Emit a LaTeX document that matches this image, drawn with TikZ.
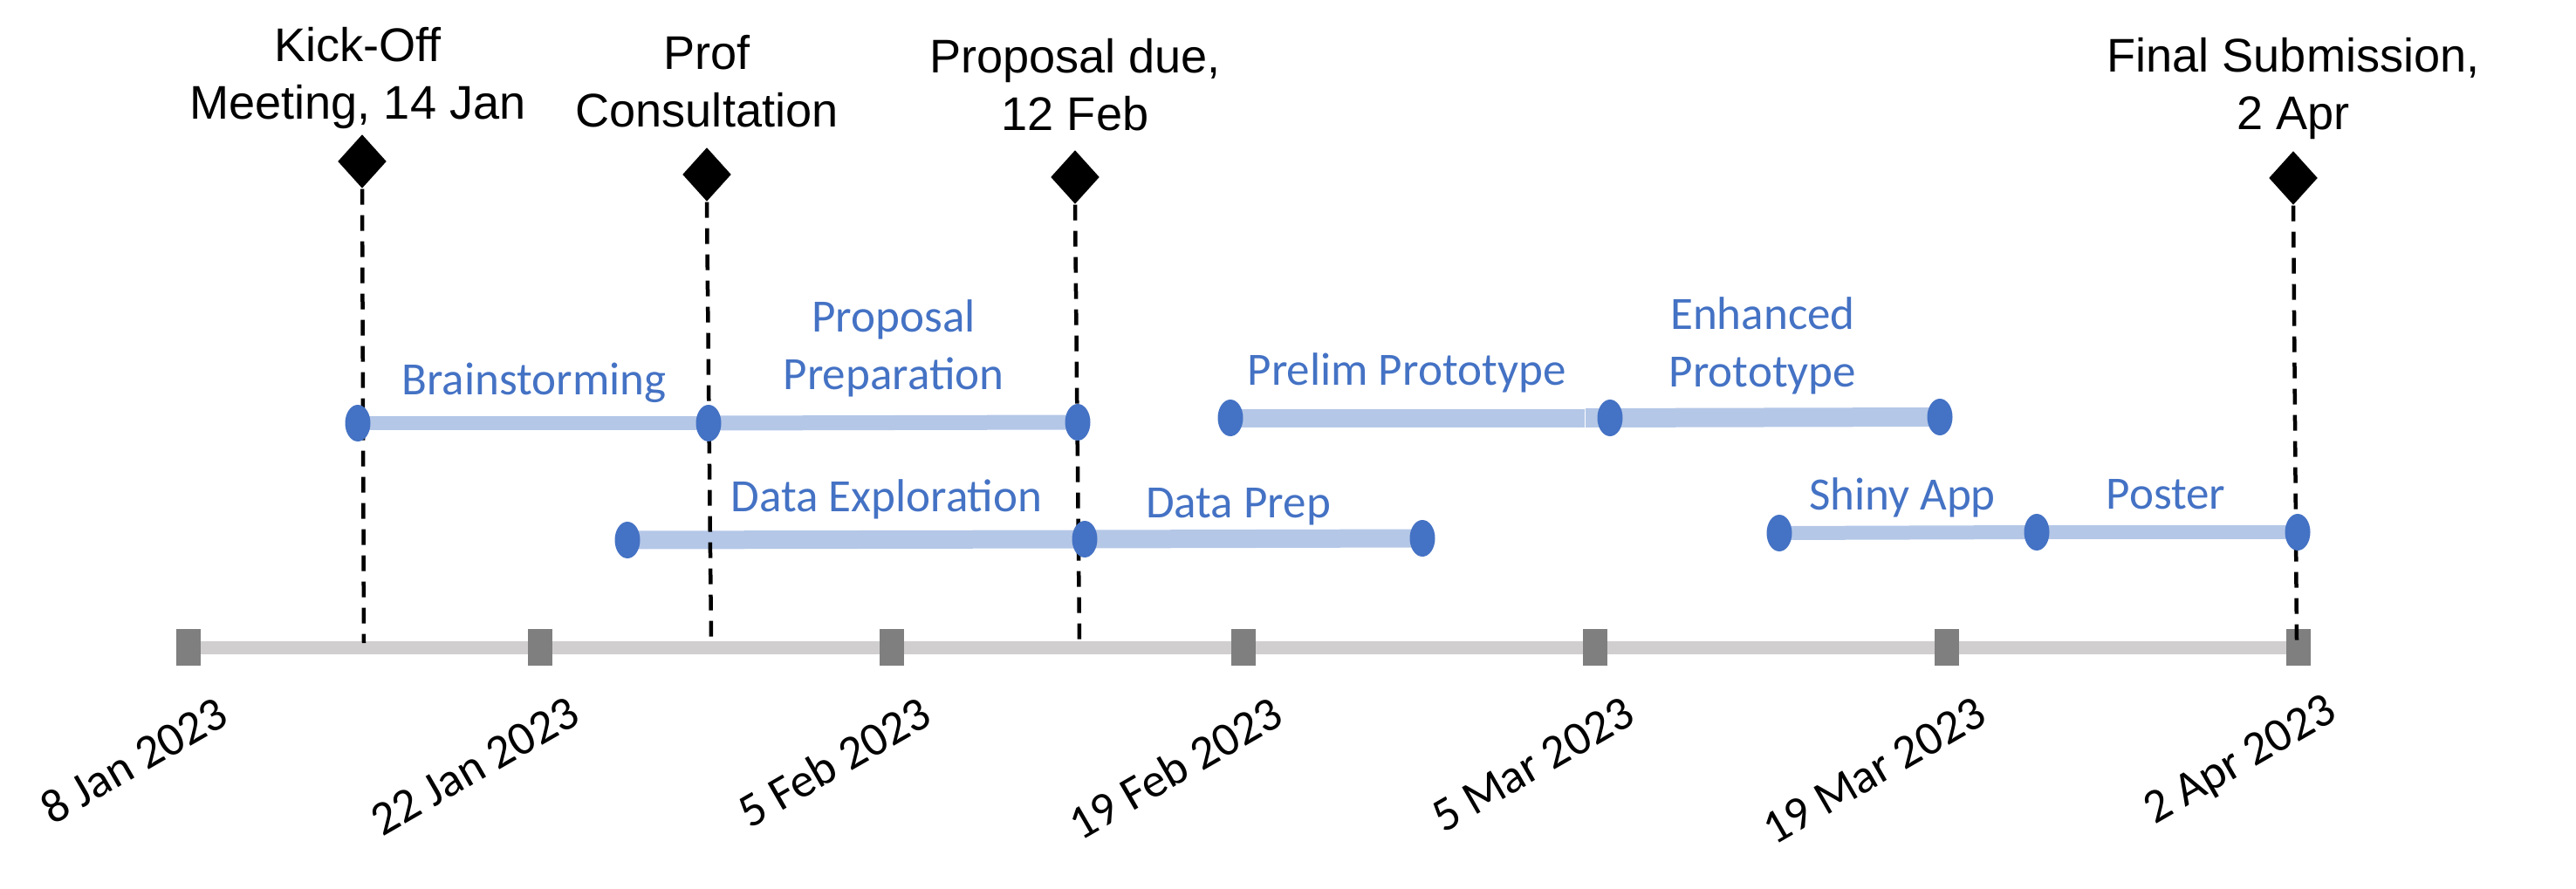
\documentclass[tikz,border=0pt]{standalone}
\usepackage{fontspec}
\setmainfont{Liberation Sans}
\newfontfamily\calibri{Carlito}
\usetikzlibrary{positioning,shapes.geometric,calc}

\definecolor{taskblue}{HTML}{4472C4}
\definecolor{barblue}{HTML}{B4C7E7}
\definecolor{axisgray}{HTML}{D0CECE}
\definecolor{tickgray}{HTML}{7F7F7F}

\begin{document}
\begin{tikzpicture}[y=-1cm,
    tick/.style={rectangle, fill=tickgray, minimum width=0.28cm, minimum height=0.42cm, inner sep=0},
    dot/.style={ellipse, fill=taskblue, minimum width=0.29cm, minimum height=0.42cm, inner sep=0},
    mstone/.style={diamond, fill=black, minimum width=0.56cm, minimum height=0.62cm, inner sep=0},
    bar/.style={draw=barblue},
    guide/.style={line width=0.045cm, dash pattern=on 0.18cm off 0.12cm},
    mlabel/.style={font=\fontsize{15.4pt}{18.8pt}\selectfont, align=center, inner sep=0},
    tlabel/.style={font=\calibri\fontsize{15.1pt}{18.8pt}\selectfont, text=taskblue, align=center, inner sep=0},
    datelbl/.style={font=\calibri\fontsize{15.6pt}{18pt}\selectfont, inner sep=0}]
    \useasboundingbox (0,0) rectangle (29.52,10.19);

    % time axis
    \foreach \i/\x in {0/2.16, 1/6.19, 2/10.22, 3/14.25, 4/18.28, 5/22.31, 6/26.34}
        \coordinate (tk\i) at (\x,7.42);
    \draw[axisgray, line width=0.15cm] (tk0) -- (tk6);
    \foreach \i/\d in {0/8 Jan 2023, 1/22 Jan 2023, 2/5 Feb 2023, 3/19 Feb 2023, 4/5 Mar 2023, 5/19 Mar 2023, 6/2 Apr 2023} {
        \node[tick] (tick\i) at (tk\i) {};
        \node[datelbl, anchor=east, rotate=30] (date\i) at ($(tk\i)+(0.40,0.70)$) {\d};
    }

    % task end points
    \foreach \n/\x/\y in {bs0/4.10/4.85, bs1/8.12/4.85, bs2/12.35/4.84,
                          de0/7.19/6.19, de1/12.43/6.18, de2/16.30/6.17,
                          pp0/14.10/4.79, pp1/18.45/4.79, pp2/22.23/4.78,
                          sa0/20.39/6.11, sa1/23.34/6.10, sa2/26.33/6.10}
        \coordinate (\n) at (\x,\y);
    \coordinate (gapL) at (18.155,4.79);
    \coordinate (gapR) at (18.17,4.79);

    % task bars
    \draw[bar, line width=0.16cm] (bs0) -- (bs1);
    \draw[bar, line width=0.17cm] (bs1) -- (bs2);
    \draw[bar, line width=0.21cm] (de0) -- (de1);
    \draw[bar, line width=0.21cm] (de1) -- (de2);
    \draw[bar, line width=0.21cm] (pp0) -- (gapL);
    \draw[bar, line width=0.22cm] (gapR) -- (pp2);
    \draw[bar, line width=0.16cm] (sa0) -- (sa1);
    \draw[bar, line width=0.16cm] (sa1) -- (sa2);

    % milestones
    \node[mstone] (kick)  at (4.15,1.85)  {};
    \node[mstone] (prof)  at (8.10,2.00)  {};
    \node[mstone] (due)   at (12.32,2.03) {};
    \node[mstone] (final) at (26.28,2.04) {};
    \coordinate (kick-b)  at (4.17,7.37);
    \coordinate (prof-b)  at (8.15,7.35);
    \coordinate (due-b)   at (12.37,7.36);
    \coordinate (final-b) at (26.32,7.35);
    \draw[guide] (kick.south) -- (kick-b);
    \draw[guide] (prof.south) -- (prof-b);
    \draw[guide] (due.south) -- (due-b);
    \draw[guide] (final.south) -- (final-b);

    \foreach \n in {bs0, bs1, bs2, de0, de1, de2, pp0, pp1, pp2, sa0, sa1, sa2}
        \node[dot] (\n-dot) at (\n) {};

    \node[mlabel, anchor=north] (kick-lbl)  at (4.10,0.31)  {Kick-Off\\Meeting, 14 Jan};
    \node[mlabel, anchor=north] (prof-lbl)  at (8.10,0.40)  {Prof\\Consultation};
    \node[mlabel, anchor=north] (due-lbl)   at (12.32,0.435) {Proposal due,\\12 Feb};
    \node[mlabel, anchor=north] (final-lbl) at (26.28,0.425) {Final Submission,\\2 Apr};

    % task labels
    \node[tlabel, anchor=base]  (bs-lbl) at (6.12,4.52)  {Brainstorming};
    \node[tlabel, anchor=north] (pr-lbl) at (10.24,3.43) {Proposal\\Preparation};
    \node[tlabel, anchor=base]  (de-lbl) at (10.16,5.86) {Data Exploration};
    \node[tlabel, anchor=base]  (dp-lbl) at (14.19,5.93) {Data Prep};
    \node[tlabel, anchor=base]  (pp-lbl) at (16.12,4.41) {Prelim Prototype};
    \node[tlabel, anchor=north] (ep-lbl) at (20.20,3.40) {Enhanced\\Prototype};
    \node[tlabel, anchor=base]  (sa-lbl) at (21.80,5.84) {Shiny App};
    \node[tlabel, anchor=base]  (po-lbl) at (24.82,5.83) {Poster};
\end{tikzpicture}
\end{document}
